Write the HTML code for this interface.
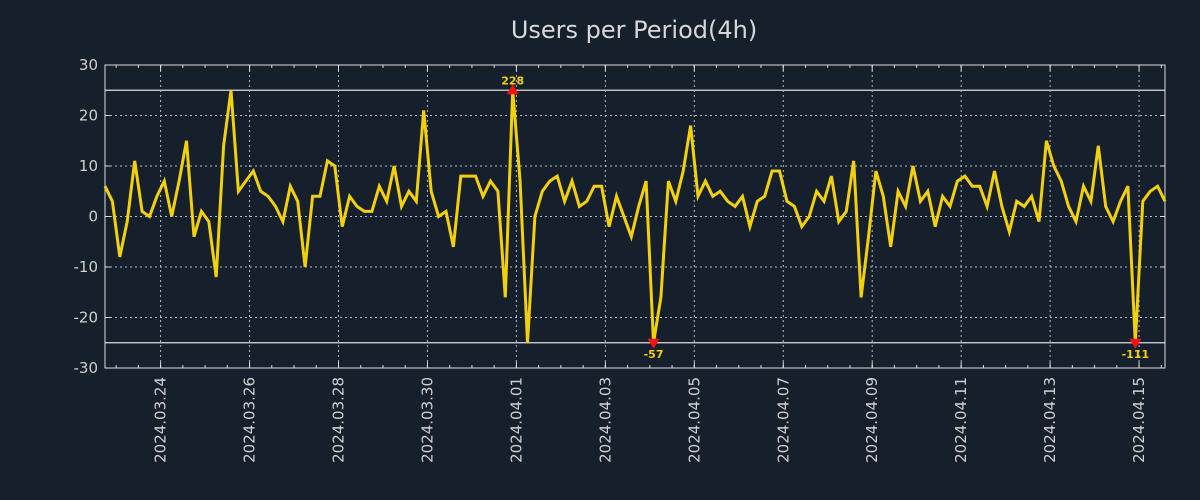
<!DOCTYPE html>
<html><head><meta charset="utf-8"><style>
html,body{margin:0;padding:0;background:#161f2c;}
svg{display:block;font-family:"DejaVu Sans","Liberation Sans",sans-serif;}
</style></head><body>
<svg id="chart" width="1200" height="500">
<rect x="0" y="0" width="1200" height="500" fill="#161f2c"/>
<text x="634" y="38" text-anchor="middle" font-size="24" fill="#d8d8d8">Users per Period(4h)</text>
<g id="grid"></g><g id="axes"></g><g id="series"></g><g id="marks"></g>
</svg>
<script>
const startTime = Date.UTC(2024,2,22,18);
const stepHours = 4;
const values = [6,3,-8,-1,11,1,0,4,7,0,7,15,-4,1,-1,-12,14,25,5,7,9,5,4,2,-1,6,3,-10,4,4,11,10,-2,4,2,1,1,6,3,10,2,5,3,21,5,0,1,-6,8,8,8,4,7,5,-16,228,7,-25,0,5,7,8,3,7,2,3,6,6,-2,4,0,-4,2,7,-57,-16,7,3,9,18,4,7,4,5,3,2,4,-2,3,4,9,9,3,2,-2,0,5,3,8,-1,1,11,-16,-4,9,4,-6,5,2,10,3,5,-2,4,2,7,8,6,6,2,9,2,-3,3,2,4,-1,15,10,7,2,-1,6,3,14,2,-1,3,6,-111,3,5,6,3];
const yTicks = [30,20,10,0,-10,-20,-30];
const xTickLabels = ["2024.03.24","2024.03.26","2024.03.28","2024.03.30","2024.04.01","2024.04.03","2024.04.05","2024.04.07","2024.04.09","2024.04.11","2024.04.13","2024.04.15"];
const clipLimit = 25;

const L=105,R=1165,T=65,B=368,yMin=-30,yMax=30;
const NS="http://www.w3.org/2000/svg";
const dx=(R-L)/(values.length-1);
function xPos(i){return L+i*dx;}
function xTime(t){return L+(t-startTime)/(stepHours*3600e3)*dx;}
function yPos(v){return B-(v-yMin)/(yMax-yMin)*(B-T);}
function mk(tag,attrs,parent){const e=document.createElementNS(NS,tag);for(const k in attrs)e.setAttribute(k,attrs[k]);parent.appendChild(e);return e;}
const grid=document.getElementById('grid'),axes=document.getElementById('axes'),series=document.getElementById('series'),marks=document.getElementById('marks');

yTicks.forEach(v=>{
  const y=yPos(v);
  if(v!==yMax&&v!==yMin){const g=mk('line',{x1:L,x2:R,y1:y,y2:y,stroke:'#bbbbbb','stroke-width':1,'stroke-dasharray':'2,3'},grid);
  
  }
  mk('line',{x1:L,x2:L+5,y1:y,y2:y,stroke:'#ddd'},axes);
  mk('line',{x1:R-5,x2:R,y1:y,y2:y,stroke:'#ddd'},axes);
  const t=mk('text',{x:98,y:y+5,'text-anchor':'end','font-size':15,fill:'#d0d0d0'},axes);
  t.textContent=v;
  
  
});
[clipLimit,-clipLimit].forEach(v=>{
  const l=mk('line',{x1:L,x2:R,y1:yPos(v),y2:yPos(v),stroke:'#dddddd','stroke-width':1.2},grid);
  
  
});
const endT=startTime+(values.length-1)*stepHours*3600e3;
for(let t=Date.UTC(2024,2,23,0);t<=endT;t+=12*3600e3){const x=xTime(t);
  mk('line',{x1:x,x2:x,y1:T,y2:T+3,stroke:'#ddd'},axes);mk('line',{x1:x,x2:x,y1:B-3,y2:B,stroke:'#ddd'},axes);}
xTickLabels.forEach(s=>{
  const p=s.split('.');const t=Date.UTC(+p[0],+p[1]-1,+p[2]);const x=xTime(t);
  const g=mk('line',{x1:x,x2:x,y1:T,y2:B,stroke:'#bbbbbb','stroke-width':1,'stroke-dasharray':'2,3'},grid);
  
  
  mk('line',{x1:x,x2:x,y1:T,y2:T+6,stroke:'#ddd'},axes);mk('line',{x1:x,x2:x,y1:B-6,y2:B,stroke:'#ddd'},axes);
  const tx=mk('text',{x:0,y:0,'text-anchor':'end','font-size':15,fill:'#d0d0d0',transform:`translate(${x+5},${B+9}) rotate(-90)`},axes);
  tx.textContent=s;
  
  
});
const fr=mk('rect',{x:L,y:T,width:R-L,height:B-T,fill:'none',stroke:'#dddddd','stroke-width':1},axes);



const pts=values.map((v,i)=>xPos(i).toFixed(1)+','+yPos(Math.max(-clipLimit,Math.min(clipLimit,v))).toFixed(1)).join(' ');
const line=mk('polyline',{points:pts,fill:'none',stroke:'#f2d00c','stroke-width':3,'stroke-linejoin':'miter'},series);



values.forEach((v,i)=>{
  if(Math.abs(v)<=clipLimit)return;
  const x=xPos(i);
  if(v>0){const y=yPos(clipLimit);
    const m=mk('polygon',{points:`${x-6},${y+4} ${x+6},${y+4} ${x},${y-6}`,fill:'#ff1010'},marks);
    
    
    const t=mk('text',{x:x,y:y-6,'text-anchor':'middle','font-size':11,'font-weight':'bold',fill:'#f2d00c'},marks);
    t.textContent=v;
    
    
  } else {const y=yPos(-clipLimit);
    const m=mk('polygon',{points:`${x-6},${y-4} ${x+6},${y-4} ${x},${y+6}`,fill:'#ff1010'},marks);
    
    
    const t=mk('text',{x:x,y:y+15,'text-anchor':'middle','font-size':11,'font-weight':'bold',fill:'#f2d00c'},marks);
    t.textContent=v;
    
    
  }
});
</script>
</body></html>
